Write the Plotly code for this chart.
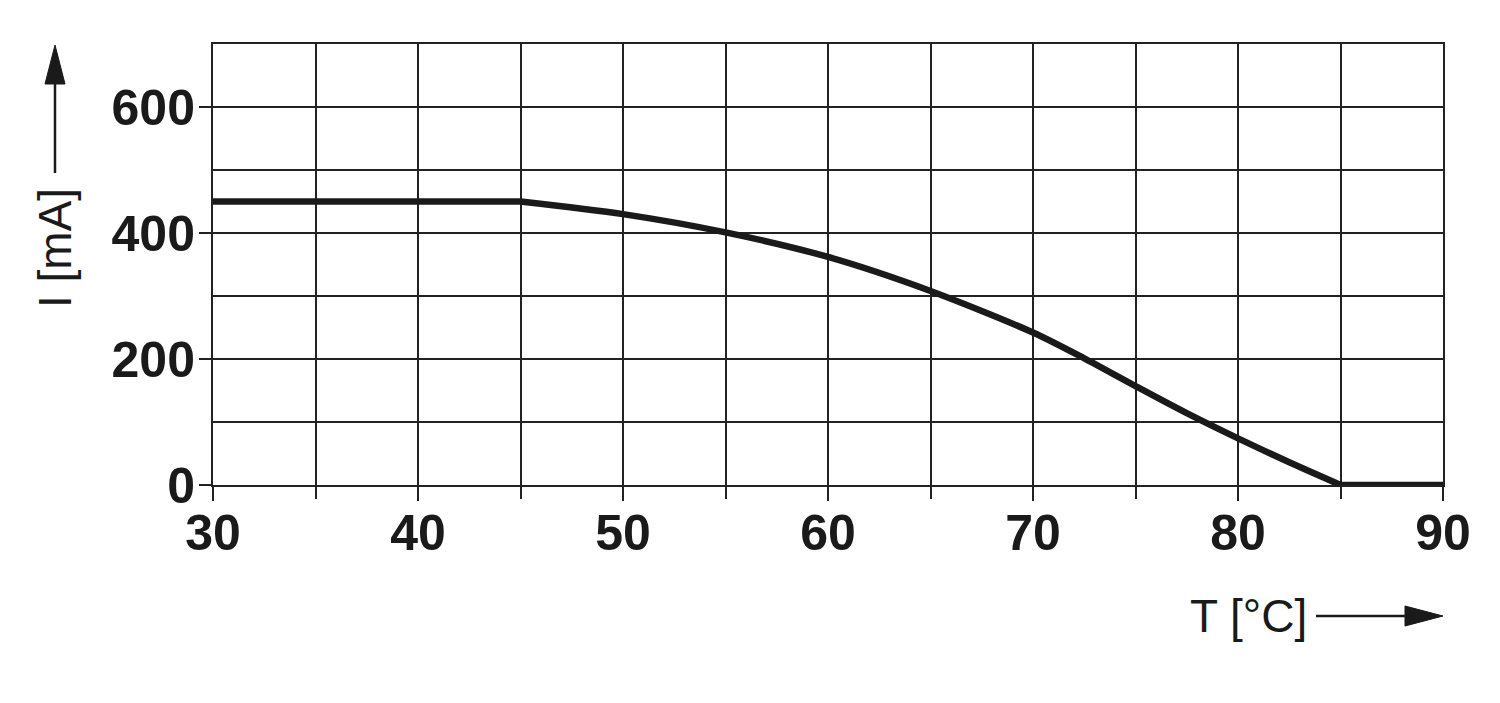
import plotly.graph_objects as go

# Data
T_flat_left = [30, 45]
I_flat_left = [450, 450]
T_curve = [45, 50, 55, 60, 65, 70, 72.5, 75, 77.5, 80, 82.5, 85]
I_curve = [450, 430, 401, 362, 308, 242, 201, 157, 114, 74, 36, 0]
T_flat_right = [85, 90]
I_flat_right = [0, 0]

x_ticks = [30, 40, 50, 60, 70, 80, 90]
x_ticklabels = ["30", "40", "50", "60", "70", "80", "90"]
y_ticks = [0, 200, 400, 600]
y_ticklabels = ["0", "200", "400", "600"]

INK = "#1a1a1a"
GRID = "#222222"
FONT = "Liberation Sans, Arial, Helvetica, sans-serif"

W, H = 1500, 703
L, R, TOP, B = 213, 1443, 44, 485


def px(x):
    return (x - L) / (R - L)


def py(y):
    return (B - y) / (B - TOP)


fig = go.Figure()
line_style = dict(color=INK, width=6.5)
fig.add_trace(go.Scatter(x=T_flat_left, y=I_flat_left, mode="lines", line=line_style,
                         showlegend=False, hoverinfo="skip"))
fig.add_trace(go.Scatter(x=T_curve, y=I_curve, mode="lines",
                         line=dict(color=INK, width=6.5, shape="spline", smoothing=0.8),
                         showlegend=False, hoverinfo="skip"))
fig.add_trace(go.Scatter(x=T_flat_right, y=I_flat_right, mode="lines", line=line_style,
                         showlegend=False, hoverinfo="skip"))

fig.update_xaxes(
    range=[30, 90], tickmode="array", tickvals=x_ticks, ticktext=x_ticklabels,
    showgrid=True, gridcolor=GRID, gridwidth=2,
    ticks="outside", ticklen=14, tickwidth=2, tickcolor=GRID,
    minor=dict(dtick=5, showgrid=True, gridcolor=GRID, gridwidth=2,
               ticks="outside", ticklen=12, tickwidth=2, tickcolor=GRID),
    showline=True, mirror=True, linecolor=GRID, linewidth=2,
    zeroline=False, ticklabelstandoff=-11,
    tickfont=dict(family=FONT, size=50, color=INK, weight="bold"),
    fixedrange=True,
)
fig.update_yaxes(
    range=[0, 700], tickmode="array", tickvals=y_ticks, ticktext=y_ticklabels,
    showgrid=True, gridcolor=GRID, gridwidth=2,
    ticks="outside", ticklen=12, tickwidth=2, tickcolor=GRID,
    minor=dict(dtick=100, showgrid=True, gridcolor=GRID, gridwidth=2, ticks=""),
    showline=True, mirror=True, linecolor=GRID, linewidth=2,
    zeroline=False, ticklabelstandoff=-6,
    tickfont=dict(family=FONT, size=50, color=INK, weight="bold"),
    fixedrange=True,
)

shapes = [
    # vertical arrow (y-axis title)
    dict(type="line", xref="paper", yref="paper", x0=px(55), x1=px(55), y0=py(173), y1=py(80),
         line=dict(color=INK, width=2.5)),
    dict(type="path", xref="paper", yref="paper",
         path=f"M {px(55)} {py(45)} L {px(45)} {py(84)} L {px(65)} {py(84)} Z",
         fillcolor=INK, line=dict(color=INK, width=1)),
    # horizontal arrow (x-axis title)
    dict(type="line", xref="paper", yref="paper", x0=px(1316), x1=px(1410), y0=py(616), y1=py(616),
         line=dict(color=INK, width=2.5)),
    dict(type="path", xref="paper", yref="paper",
         path=f"M {px(1443)} {py(616)} L {px(1405)} {py(606)} L {px(1405)} {py(626)} Z",
         fillcolor=INK, line=dict(color=INK, width=1)),
]

annotations = [
    dict(text="I [mA]", xref="paper", yref="paper", x=px(55), y=py(248),
         xanchor="center", yanchor="middle", showarrow=False, textangle=-90,
         font=dict(family=FONT, size=46, color=INK)),
    dict(text="T [°C]", xref="paper", yref="paper", x=px(1248), y=py(616),
         xanchor="center", yanchor="middle", showarrow=False,
         font=dict(family=FONT, size=46, color=INK)),
]

fig.update_layout(
    width=W, height=H,
    margin=dict(l=L, r=W - R, t=TOP, b=H - B, pad=0),
    paper_bgcolor="white", plot_bgcolor="white",
    shapes=shapes, annotations=annotations,
    showlegend=False,
)

fig.write_html(
    "out.html",
    config={"displayModeBar": False},
    post_script="document.body.style.margin='0';document.body.style.overflow='hidden';",
)
